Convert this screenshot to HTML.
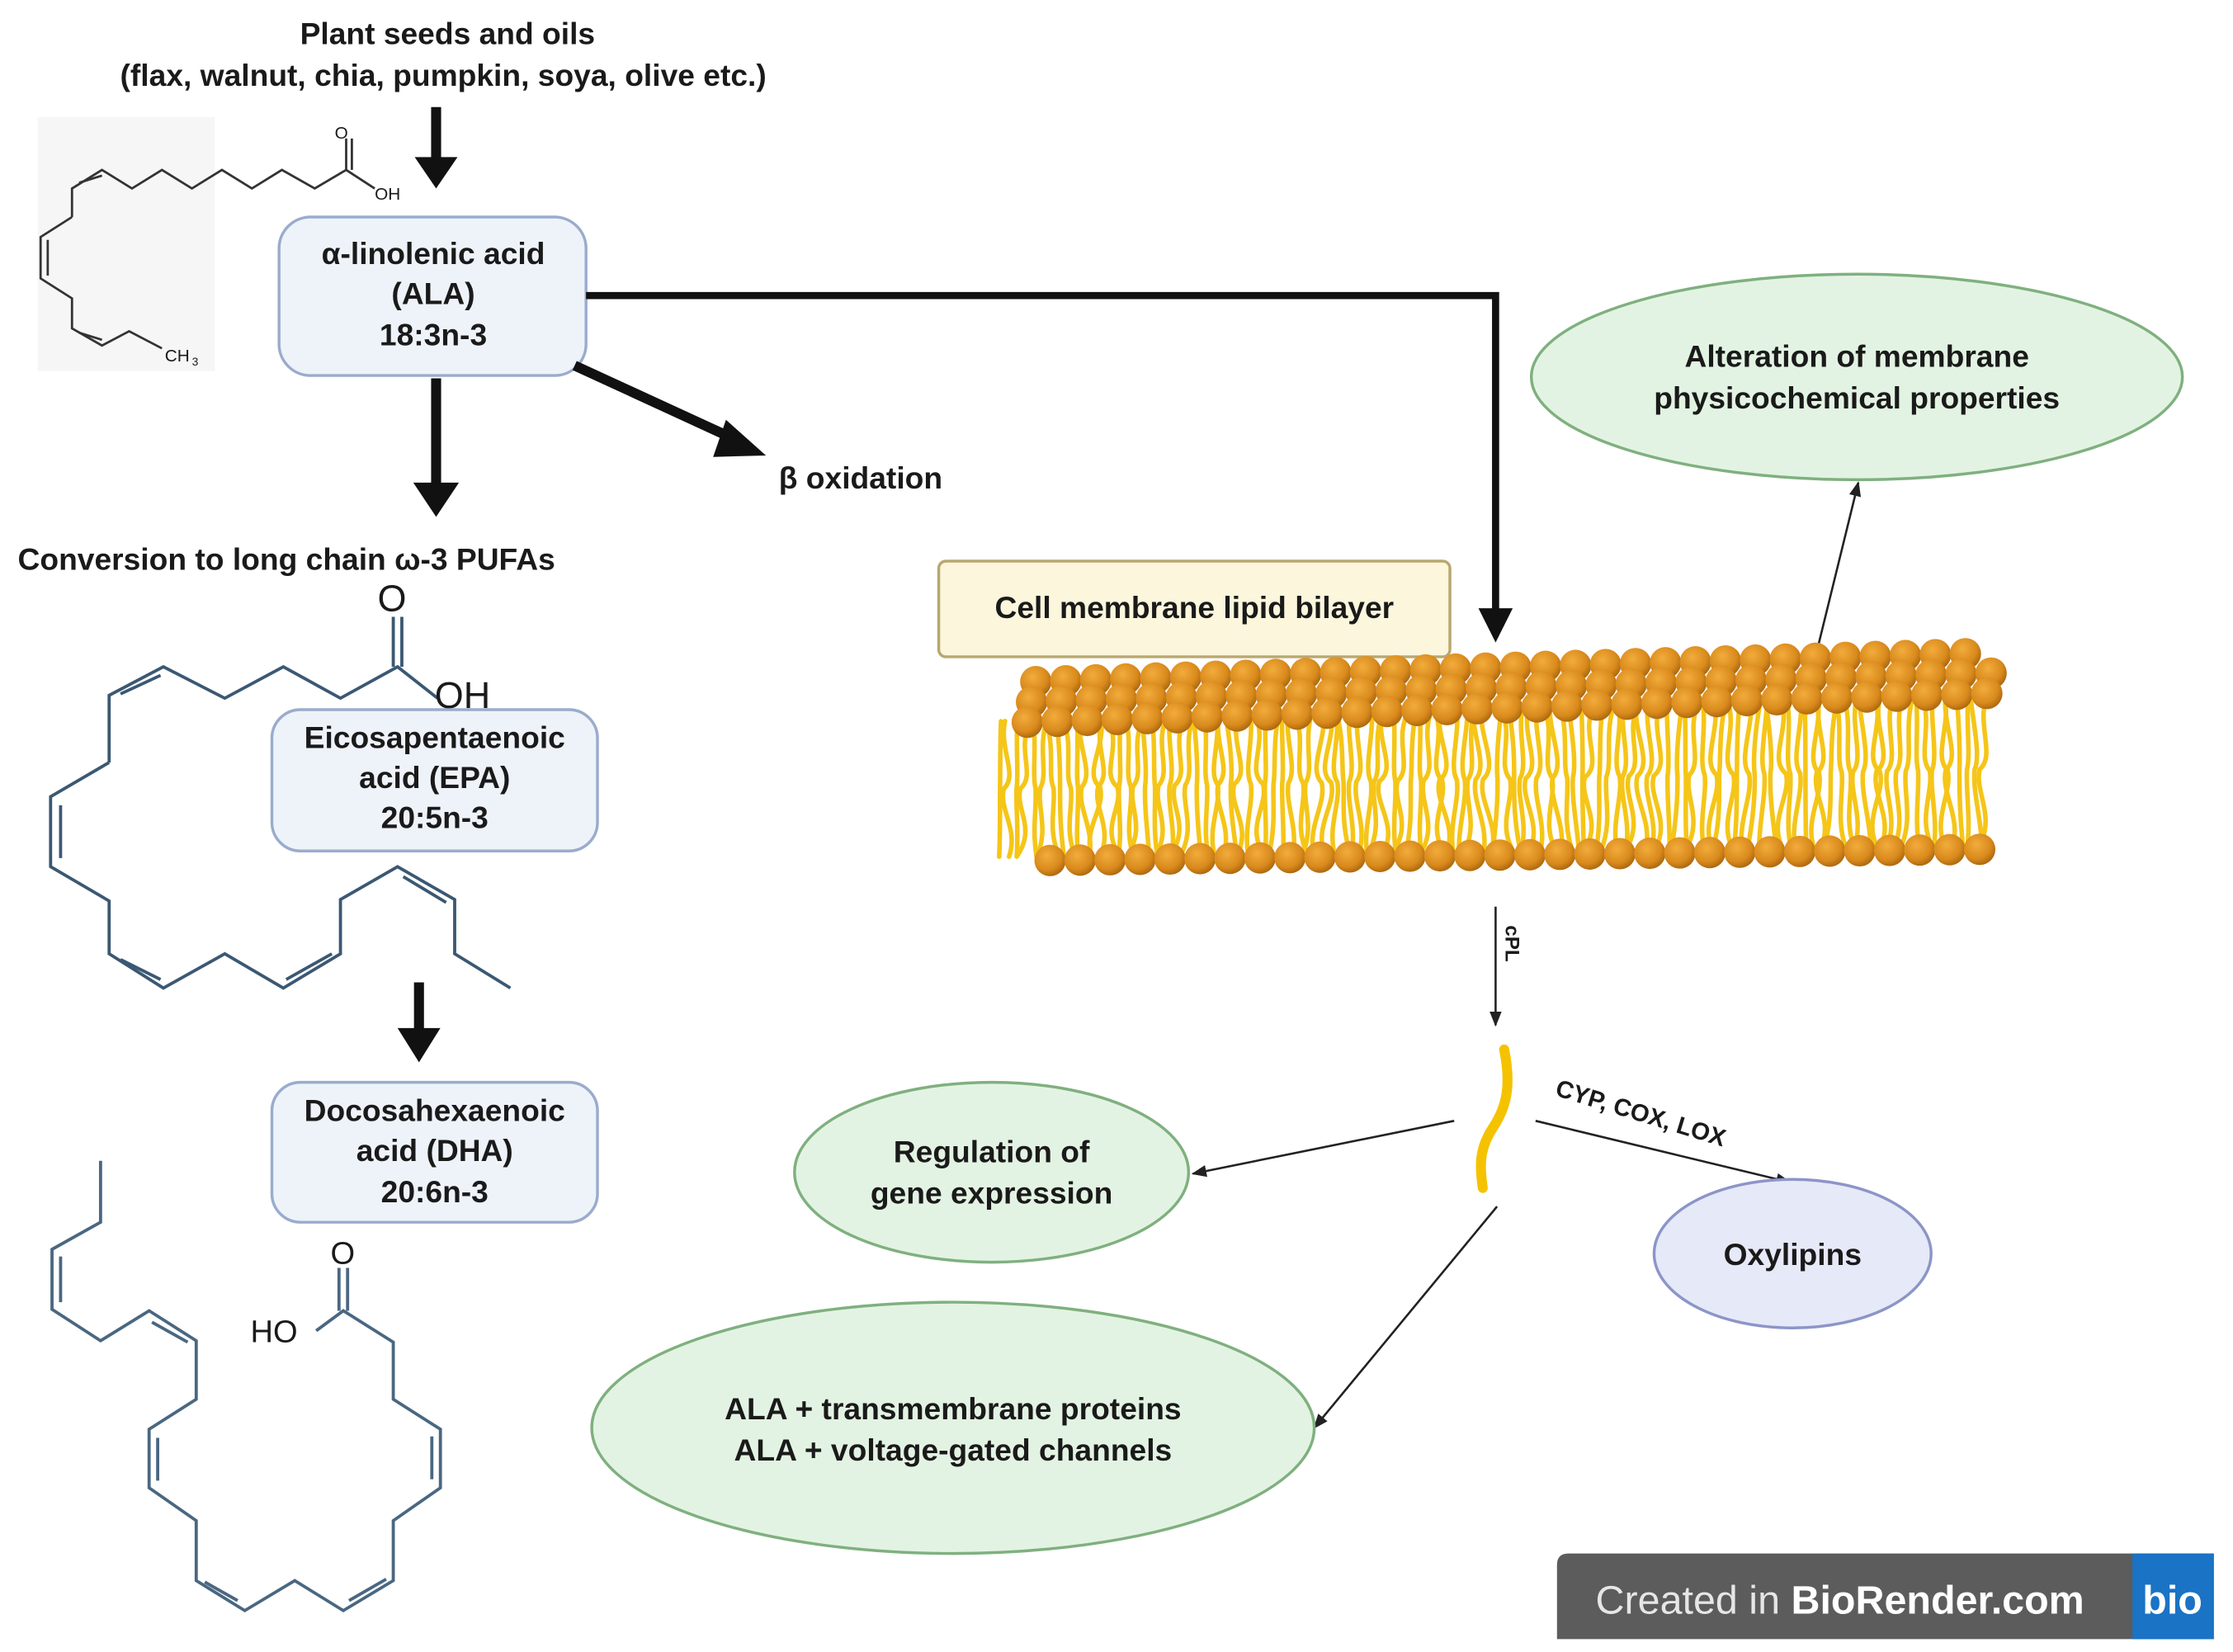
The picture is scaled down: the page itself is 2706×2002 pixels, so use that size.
<!DOCTYPE html>
<html><head><meta charset="utf-8"><style>
html,body{margin:0;padding:0;background:#fff;}
svg{display:block;}
text{font-family:"Liberation Sans",Arial,sans-serif;font-weight:bold;fill:#1a1a1a;}
text.n{font-weight:normal;}
</style></head><body>
<svg id="s" width="2706" height="2002" viewBox="0 0 1563 1157" xmlns="http://www.w3.org/2000/svg">
<defs>
<radialGradient id="bead" cx="40%" cy="35%" r="65%">
<stop offset="0" stop-color="#f2ac3c"/><stop offset="0.7" stop-color="#d98a1c"/><stop offset="1" stop-color="#b06a10"/>
</radialGradient>
<marker id="ah" viewBox="0 0 10 10" refX="9" refY="5" markerWidth="7" markerHeight="7" orient="auto-start-reverse"><path d="M0,1 L10,5 L0,9 z" fill="#222"/></marker>
</defs>
<rect width="1563" height="1157" fill="#fff"/>

<text x="313" y="31" font-size="21.5" text-anchor="middle">Plant seeds and oils</text>
<text x="310" y="60" font-size="21.5" text-anchor="middle">(flax, walnut, chia, pumpkin, soya, olive etc.)</text>
<line x1="305" y1="75" x2="305" y2="112" stroke="#111" stroke-width="7"/>
<path d="M290,110 L320,110 L305,132 z" fill="#111"/>

<rect x="26" y="82" width="124" height="178" fill="#f6f6f6"/>
<g fill="none" stroke="#333" stroke-width="1.6">
<polyline points="50,152 50,132 71,119 92,132 113,119 134,132 155,119 176,132 197,119 220,132 242,119 262,132"/>
<line x1="242" y1="119" x2="242" y2="97"/><line x1="246" y1="119" x2="246" y2="97"/>
<line x1="55" y1="128" x2="71" y2="123"/>
<polyline points="50,152 28,166 28,195 50,209 50,230 71,242 90,232 113,244"/>
<line x1="33" y1="168" x2="33" y2="193"/>
<line x1="55" y1="233" x2="71" y2="238"/>
</g>
<text class="n" x="234" y="97" font-size="12" fill="#333">O</text>
<text class="n" x="262" y="140" font-size="12" fill="#333">OH</text>
<text class="n" x="115" y="253" font-size="12" fill="#333">CH</text><text class="n" x="134" y="256" font-size="8" fill="#333">3</text>

<rect x="195" y="152" width="215" height="111" rx="22" fill="#eef3fa" stroke="#9aaccc" stroke-width="2"/>
<text x="303" y="185" font-size="21.5" text-anchor="middle">α-linolenic acid</text>
<text x="303" y="213" font-size="21.5" text-anchor="middle">(ALA)</text>
<text x="303" y="242" font-size="21.5" text-anchor="middle">18:3n-3</text>

<line x1="305" y1="265" x2="305" y2="340" stroke="#111" stroke-width="7"/>
<path d="M289,338 L321,338 L305,362 z" fill="#111"/>
<line x1="402" y1="256" x2="515" y2="308" stroke="#111" stroke-width="7"/>
<path d="M508,294 L536,319 L499,320 z" fill="#111"/>
<text x="545" y="342" font-size="21.5">β oxidation</text>

<polyline points="410,207 1047,207 1047,428" fill="none" stroke="#111" stroke-width="5"/>
<path d="M1035,426 L1059,426 L1047,450 z" fill="#111"/>

<text x="12" y="399" font-size="21.5">Conversion to long chain ω-3 PUFAs</text>

<g fill="none" stroke="#3b5873" stroke-width="2.2">
<polyline points="76,534 76,487 114,467 157,489 198,467 238,489 278,467 306,489"/>
<line x1="84" y1="486" x2="112" y2="473"/>
<line x1="275" y1="467" x2="275" y2="432"/><line x1="281" y1="467" x2="281" y2="432"/>
<polyline points="76,534 35,558 35,607 76,631 76,668 114,692 157,668 198,692 238,668 238,630 278,607 318,630 318,668 357,692"/>
<line x1="42" y1="564" x2="42" y2="601"/>
<line x1="84" y1="672" x2="112" y2="686"/>
<line x1="200" y1="686" x2="232" y2="668"/>
<line x1="282" y1="614" x2="312" y2="632"/>
</g>
<text class="n" x="264" y="428" font-size="26" fill="#2f5170">O</text>
<text class="n" x="304" y="496" font-size="26" fill="#2f5170">OH</text>

<rect x="190" y="497" width="228" height="99" rx="20" fill="#eef3fa" stroke="#9aaccc" stroke-width="2"/>
<text x="304" y="524" font-size="21.5" text-anchor="middle">Eicosapentaenoic</text>
<text x="304" y="552" font-size="21.5" text-anchor="middle">acid (EPA)</text>
<text x="304" y="580" font-size="21.5" text-anchor="middle">20:5n-3</text>

<line x1="293" y1="688" x2="293" y2="722" stroke="#111" stroke-width="7"/>
<path d="M278,720 L308,720 L293,744 z" fill="#111"/>

<rect x="190" y="758" width="228" height="98" rx="20" fill="#eef3fa" stroke="#9aaccc" stroke-width="2"/>
<text x="304" y="785" font-size="21.5" text-anchor="middle">Docosahexaenoic</text>
<text x="304" y="813" font-size="21.5" text-anchor="middle">acid (DHA)</text>
<text x="304" y="842" font-size="21.5" text-anchor="middle">20:6n-3</text>

<g fill="none" stroke="#4a6781" stroke-width="2.2">
<polyline points="70,813 70,856 36,875 36,917 70,939 104,918 137,939 137,980 104,1001 104,1042 137,1065 137,1107 171,1128 206,1107 240,1128 275,1107 275,1065 308,1042 308,1001 275,980 275,940 240,918 221,932"/>
<line x1="42" y1="880" x2="42" y2="912"/>
<line x1="106" y1="926" x2="131" y2="940"/>
<line x1="110" y1="1007" x2="110" y2="1037"/>
<line x1="143" y1="1108" x2="166" y2="1121"/>
<line x1="244" y1="1121" x2="270" y2="1106"/>
<line x1="302" y1="1006" x2="302" y2="1036"/>
<line x1="237" y1="918" x2="237" y2="888"/><line x1="243" y1="918" x2="243" y2="888"/>
</g>
<text class="n" x="231" y="885" font-size="22" fill="#3b5873">O</text>
<text class="n" x="175" y="940" font-size="22" fill="#3b5873">HO</text>

<rect x="657" y="393" width="358" height="67" rx="5" fill="#fbf6dc" stroke="#b8a870" stroke-width="2"/>
<text x="836" y="433" font-size="21.5" text-anchor="middle">Cell membrane lipid bilayer</text>

<ellipse cx="1300" cy="264" rx="228" ry="72" fill="#e3f3e3" stroke="#7fb07f" stroke-width="2"/>
<text x="1300" y="257" font-size="21.5" text-anchor="middle">Alteration of membrane</text>
<text x="1300" y="286" font-size="21.5" text-anchor="middle">physicochemical properties</text>
<line x1="1273" y1="452" x2="1301" y2="338" stroke="#222" stroke-width="1.5" marker-end="url(#ah)"/>

<g id="mem"></g>

<line x1="1047" y1="635" x2="1047" y2="718" stroke="#222" stroke-width="1.5" marker-end="url(#ah)"/>
<text x="1054" y="648" font-size="14" transform="rotate(90 1054 648)">cPL</text>

<path d="M1053,735 C1058,760 1055,775 1045,790 C1035,805 1036,818 1038,832" fill="none" stroke="#f5c200" stroke-width="7" stroke-linecap="round"/>

<line x1="1018" y1="785" x2="835" y2="822" stroke="#222" stroke-width="1.5" marker-end="url(#ah)"/>
<line x1="1075" y1="785" x2="1253" y2="828" stroke="#222" stroke-width="1.5" marker-end="url(#ah)"/>
<text x="1088" y="767" font-size="17" transform="rotate(17 1088 767)">CYP, COX, LOX</text>
<line x1="1048" y1="845" x2="920" y2="1000" stroke="#222" stroke-width="1.5" marker-end="url(#ah)"/>

<ellipse cx="694" cy="821" rx="138" ry="63" fill="#e3f3e3" stroke="#7fb07f" stroke-width="2"/>
<text x="694" y="814" font-size="21.5" text-anchor="middle">Regulation of</text>
<text x="694" y="843" font-size="21.5" text-anchor="middle">gene expression</text>

<ellipse cx="1255" cy="878" rx="97" ry="52" fill="#e6e9f7" stroke="#8c95c8" stroke-width="2"/>
<text x="1255" y="886" font-size="21.5" text-anchor="middle">Oxylipins</text>

<ellipse cx="667" cy="1000" rx="253" ry="88" fill="#e3f3e3" stroke="#7fb07f" stroke-width="2"/>
<text x="667" y="994" font-size="21.5" text-anchor="middle">ALA + transmembrane proteins</text>
<text x="667" y="1023" font-size="21.5" text-anchor="middle">ALA + voltage-gated channels</text>

<path d="M1098,1088 L1550,1088 L1550,1148 L1090,1148 L1090,1096 Q1090,1088 1098,1088 z" fill="#5c5c5c"/>
<rect x="1493" y="1088" width="57" height="60" fill="#1a73c4"/>
<text class="n" x="1117" y="1130" font-size="28" style="fill:#e6e6e6">Created in <tspan style="font-weight:bold;fill:#fff">BioRender.com</tspan></text>
<text x="1521" y="1130" font-size="28" text-anchor="middle" style="fill:#fff">bio</text>
</svg>
<script>
(function(){
var g=document.getElementById('mem'),h='';
var x0=705,x1=1395;
var seed=7;function r(){seed=(seed*9301+49297)%233280;return seed/233280;}
for(var x=x0-5;x<=x1;x+=6){
 var top=505-(x-x0)*0.03, bot=600-(x-x0)*0.01;
 var m=(top+bot)/2, d=(r()-0.5)*18, e=(r()-0.5)*10;
 h+='<path d="M'+(x+e)+','+top+' C'+(x+d)+','+(top+20)+' '+(x-d)+','+(m-10)+' '+(x+d/2)+','+m+' C'+(x+d)+','+(m+15)+' '+(x-d)+','+(bot-20)+' '+(x+d/3-e)+','+bot+'" fill="none" stroke="#f5c518" stroke-width="3.2" stroke-linecap="round"/>';
}
for(var x=x0+30;x<=x1;x+=21){var y=603-(x-x0)*0.012;h+='<circle cx="'+x+'" cy="'+y+'" r="11" fill="url(#bead)"/>';}
for(var row=0;row<3;row++){
 for(var x=x0+20+row*(-7);x<=x1-5;x+=21){
  var y=478+row*14-(x-x0)*0.03;
  h+='<circle cx="'+(x+row*4)+'" cy="'+y+'" r="11" fill="url(#bead)"/>';
 }
}
g.innerHTML=h;
})();
</script>
</body></html>
